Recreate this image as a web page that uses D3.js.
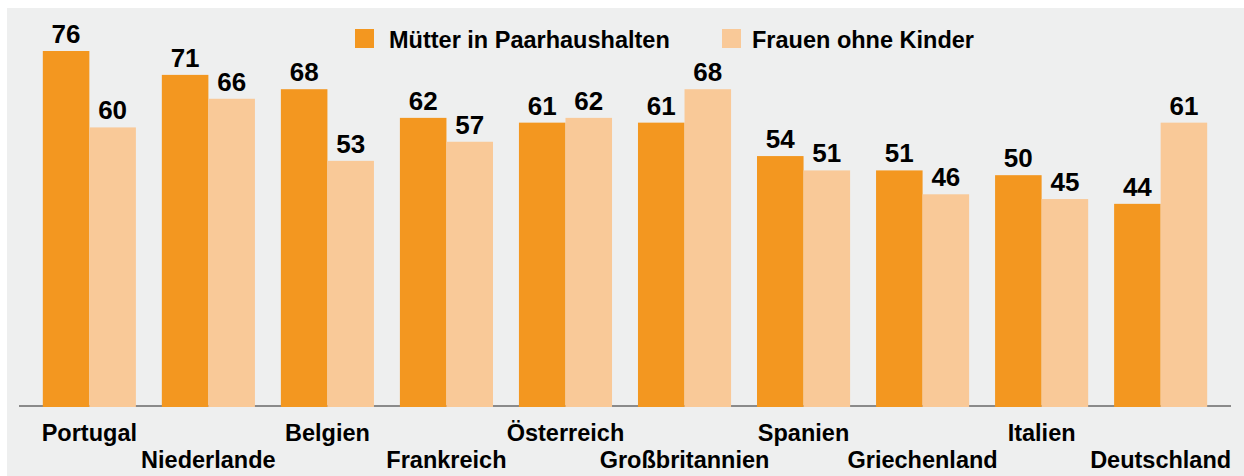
<!DOCTYPE html>
<html>
<head>
<meta charset="utf-8">
<script src="https://cdn.jsdelivr.net/npm/d3@7"></script>
<style>
  html, body { margin: 0; padding: 0; background: #ffffff; }
  svg { display: block; }
  text { font-family: "Liberation Sans", Arial, sans-serif; font-weight: bold; fill: #000; }
</style>
</head>
<body>
<svg id="chart" width="1244" height="476"></svg>
<script>
const categories = ["Portugal", "Niederlande", "Belgien", "Frankreich", "Österreich",
                    "Großbritannien", "Spanien", "Griechenland", "Italien", "Deutschland"];
const seriesNames = ["Mütter in Paarhaushalten", "Frauen ohne Kinder"];
const muetter = [76, 71, 68, 62, 61, 61, 54, 51, 50, 44];
const frauen  = [60, 66, 53, 57, 62, 68, 51, 46, 45, 61];
const colors = ["#f39720", "#f9c998"];

const W = 1244, H = 476;
const svg = d3.select("#chart");

// background panel
svg.append("rect").attr("x", 7).attr("y", 8).attr("width", W - 7).attr("height", H - 8)
  .attr("fill", "#eeefef");

const baseline = 407;
const x0 = d3.scaleBand().domain(categories).range([19, 1231]).paddingInner(0.218).paddingOuter(0.2);
const x1 = d3.scaleBand().domain(seriesNames).range([0, x0.bandwidth()]);
const y = d3.scaleLinear().domain([0, 76]).range([414, 51]);

// axis line
svg.append("line").attr("x1", 19).attr("x2", 1231).attr("y1", 406).attr("y2", 406)
  .attr("stroke", "#8a8a8a").attr("stroke-width", 2);

const rows = categories.map((c, i) => ({ cat: c, vals: [muetter[i], frauen[i]] }));

const g = svg.append("g").selectAll("g").data(rows).join("g")
  .attr("transform", d => `translate(${x0(d.cat)},0)`);

g.selectAll("rect").data(d => d.vals.map((v, j) => ({ key: seriesNames[j], v, j })))
  .join("rect")
  .attr("x", d => x1(d.key))
  .attr("y", d => y(d.v))
  .attr("width", x1.bandwidth())
  .attr("height", d => baseline - y(d.v))
  .attr("fill", d => colors[d.j]);

g.selectAll("text.val").data(d => d.vals.map((v, j) => ({ key: seriesNames[j], v, j })))
  .join("text").attr("class", "val")
  .attr("x", d => x1(d.key) + x1.bandwidth() / 2)
  .attr("y", d => y(d.v) - 8)
  .attr("text-anchor", "middle")
  .style("font-size", "26px")
  .text(d => d3.format("d")(d.v));

// category labels, alternating rows
svg.append("g").selectAll("text").data(categories).join("text")
  .attr("x", d => x0(d) + x0.bandwidth() / 2)
  .attr("y", (d, i) => i % 2 === 0 ? 441 : 468)
  .attr("text-anchor", "middle")
  .style("font-size", "23.5px")
  .text(d => d);

// legend
const legendPos = [{ sx: 355, tx: 389 }, { sx: 722, tx: 752 }];
const lg = svg.append("g").selectAll("g").data(seriesNames).join("g");
lg.append("rect").attr("x", (d, i) => legendPos[i].sx).attr("y", 29)
  .attr("width", 19).attr("height", 19).attr("fill", (d, i) => colors[i]);
lg.append("text").attr("x", (d, i) => legendPos[i].tx).attr("y", 47.5)
  .style("font-size", "23.5px").text(d => d);
</script>
</body>
</html>
